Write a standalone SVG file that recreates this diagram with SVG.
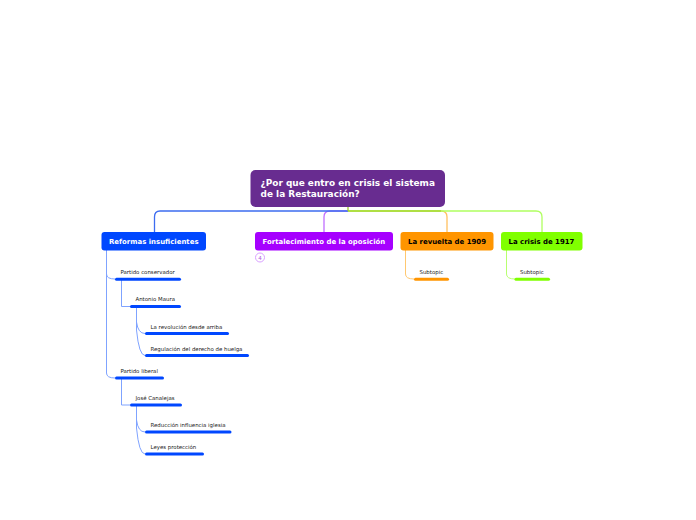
<svg xmlns="http://www.w3.org/2000/svg" width="696" height="520" viewBox="0 0 696 520">
<style>
text{font-family:"DejaVu Sans",sans-serif}
.t{font-size:6.95px;font-weight:700}
.s{font-size:5.42px;fill:#222}
.c{fill:none;stroke-width:1}
.m{fill:none;stroke-width:1.300}
.bar{stroke-width:3;stroke-linecap:round;fill:none}
.b{stroke:#0047ff}
.bl{stroke:#7fa3ff}
</style>
<rect width="696" height="520" fill="#fff"/>
<g id="connectors">
<path class="m" d="M348 211H441Q447 211 447 217V232" stroke="#ffc060"/>
<path class="m" d="M348 211H536Q542 211 542 217V232" stroke="#b0ff60"/>
<path class="m" d="M348 211H441" stroke="#a8d838"/>
<path class="m" d="M348 211H330Q324 211 324 217V232" stroke="#c070ff"/>
<path class="m" d="M348 211H160Q154.500 211 154.500 217V232" stroke="#3d6cf0"/>
<path class="m" d="M348 207V211" stroke="#a0c830" stroke-width="1.500"/>
<path class="c bl" d="M106.500 250V274Q106.500 279 115 279"/>
<path class="c bl" d="M106.500 250V373Q106.500 378 115 378"/>
<path class="c bl" d="M121.500 279V306.500H130"/>
<path class="c bl" d="M121.500 378V405H130"/>
<path class="c bl" d="M136.500 306.500V322Q138 333.500 145 333.500"/>
<path class="c bl" d="M136.500 306.500V330Q139 355.500 145 355.500"/>
<path class="c bl" d="M136.500 405V420Q138 432 145 432"/>
<path class="c bl" d="M136.500 405V428Q139 454 145 454"/>
<path class="c" d="M405.500 250V274Q405.500 279 414 279" stroke="#ffc870"/>
<path class="c" d="M506.500 250V274Q506.500 279 515 279" stroke="#b8ff70"/>
</g>
<g id="root"><rect x="250.500" y="170" width="194.500" height="37" rx="5" fill="#682c90"/><text x="260.500" y="186" font-size="8.950" font-weight="700" fill="#fff">¿Por que entro en crisis el sistema</text><text x="260.500" y="197" font-size="8.950" font-weight="700" fill="#fff">de la Restauración?</text></g>
<g id="n-reformas"><rect x="101.500" y="232" width="104.500" height="18.500" rx="3" fill="#0047ff"/><text class="t" x="109" y="244" fill="#fff">Reformas insuficientes</text></g>
<g id="n-fortalecimiento"><rect x="255" y="232" width="138" height="18.500" rx="3" fill="#a600ff"/><text class="t" x="262.500" y="244" fill="#fff">Fortalecimiento de la oposición</text><circle cx="260" cy="257.500" r="4.500" fill="#fff" stroke="#d9a0ff"/><text x="260" y="259.500" font-size="5.500" text-anchor="middle" fill="#b060e0">4</text></g>
<g id="n-revuelta"><rect x="400.500" y="232" width="93" height="18.500" rx="3" fill="#ff9500"/><text class="t" x="408" y="244" fill="#000">La revuelta de 1909</text></g>
<g id="n-crisis"><rect x="501" y="232" width="81.500" height="18.500" rx="3" fill="#80ff00"/><text class="t" x="508.500" y="244" fill="#000">La crisis de 1917</text></g>
<g id="n-conservador"><text class="s" x="120.500" y="274">Partido conservador</text><path class="bar b" d="M116.500 279.300H179.500"/></g>
<g id="n-maura"><text class="s" x="135.500" y="301">Antonio Maura</text><path class="bar b" d="M131.500 306.500H179.500"/></g>
<g id="n-revolucion"><text class="s" x="150.500" y="329">La revolución desde arriba</text><path class="bar b" d="M146.500 333.500H227.500"/></g>
<g id="n-regulacion"><text class="s" x="150.500" y="351">Regulación del derecho de huelga</text><path class="bar b" d="M146.500 355.500H247.500"/></g>
<g id="n-liberal"><text class="s" x="120.500" y="373">Partido liberal</text><path class="bar b" d="M116.500 378H162.500"/></g>
<g id="n-canalejas"><text class="s" x="135.500" y="400">José Canalejas</text><path class="bar b" d="M131.500 405H180.500"/></g>
<g id="n-reduccion"><text class="s" x="150.500" y="427">Reducción influencia iglesia</text><path class="bar b" d="M146.500 432H230"/></g>
<g id="n-leyes"><text class="s" x="150.500" y="449">Leyes protección</text><path class="bar b" d="M146.500 454H202.500"/></g>
<g id="n-sub1"><text class="s" x="419.500" y="274">Subtopic</text><path class="bar" stroke="#ff9500" d="M415.500 279.300H447.500"/></g>
<g id="n-sub2"><text class="s" x="520" y="274">Subtopic</text><path class="bar" stroke="#80ff00" d="M516 279.300H548.500"/></g>
</svg>
